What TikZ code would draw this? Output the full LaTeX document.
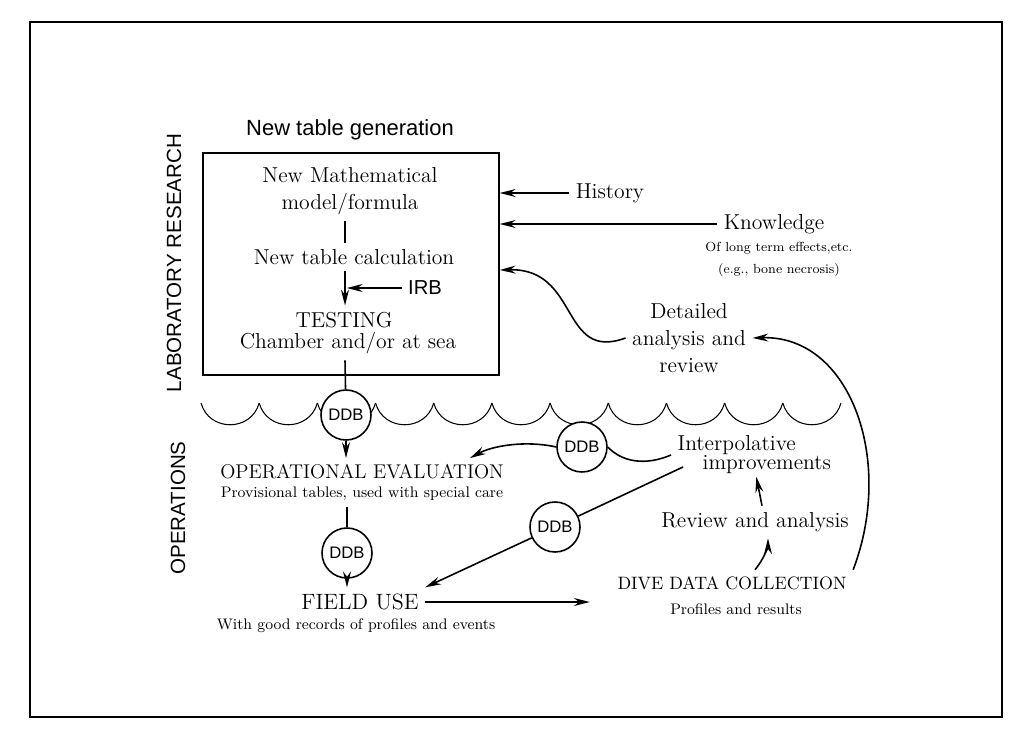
\documentclass[tikz,border=0pt]{standalone}
\usepackage{fontspec}
\setsansfont{Liberation Sans}
\usepackage{tikz}
\usetikzlibrary{positioning, calc, arrows.meta}

\tikzset{
	txt/.style={font=\fontsize{12.3}{15.5}\selectfont},
	caps/.style={font=\fontsize{11.3}{13}\selectfont},
	note/.style={font=\fontsize{8.7}{10}\selectfont},
	tiny/.style={font=\fontsize{7.5}{9}\selectfont},
	sans/.style={font=\sffamily\fontsize{12.5}{15}\selectfont},
	side/.style={font=\sffamily\fontsize{11.7}{14}\selectfont, rotate=90},
	ddb/.style={circle, draw, fill=white, minimum size=1cm, inner sep=0pt, font=\sffamily\fontsize{9.5}{11}\selectfont},
	arr/.style={-{Stealth[length=9pt,width=4.5pt]}},
}

\begin{document}
\begin{tikzpicture}[x=0.02cm, y=-0.02cm, line width=0.9pt]
			\useasboundingbox (0,0) rectangle (1013,737);
			\draw[line width=1pt] (30,22) rectangle (1002,717);
			
			\foreach \i in {0,...,10} {
				\pgfmathsetmacro{\xa}{201+58.18*\i}
				\pgfmathsetmacro{\xb}{\xa+58.18}
				\draw[line width=0.6pt] (\xa,403) .. controls (\xa+8,432) and (\xb-8,432) .. (\xb,403);
			}
			
			\node[sans] (gen)   at (350, 130)  {New table generation};
			\node[draw, line width=0.8pt, minimum width=5.92cm, minimum height=4.44cm] (box) at (351, 264) {};
			\coordinate (spine) at (345, 0);
			\node[txt, align=center] (model) at (350, 191)  {New Mathematical\\model/formula};
			\node[txt] (calc)   at (354, 257)  {New table calculation};
			\node[sans, font=\sffamily\fontsize{11.5}{14}\selectfont] (irb) at (425, 288)  {IRB};
			\node[txt] (test)   at (344, 320)  {TESTING};
			\node[txt] (chamb)  at (348, 343)  {Chamber and/or at sea};
			
			\node[side] (labres) at (174, 263)  {LABORATORY RESEARCH};
			\node[side] (ops)    at (178, 508)  {OPERATIONS};
			
			\node[txt] (hist)   at (610, 193)  {History};
			\node[txt] (know)   at (774, 224)  {Knowledge};
			\node[tiny] (longterm) at (779, 248)  {Of long term effects,etc.};
			\node[tiny] (eg)    at (779, 270)  {(e.g., bone necrosis)};
			\node[txt, align=center] (detail) at (689, 338)  {Detailed\\analysis and\\review};
			
			\node[ddb] (ddba)   at (346, 415)  {DDB};
			\node[caps] (opev)  at (362, 472)  {OPERATIONAL EVALUATION};
			\node[note] (prov)  at (362, 494)  {Provisional tables, used with special care};
			\node[ddb] (ddbb)   at (347, 553)  {DDB};
			\node[txt, font=\fontsize{12.6}{15}\selectfont] (field) at (360, 602)  {FIELD USE};
			\node[note] (recs)  at (356, 626)  {With good records of profiles and events};
			
			\node[ddb] (ddbd)   at (582, 447)  {DDB};
			\node[ddb] (ddbc)   at (555, 527)  {DDB};
			\node[txt, align=left, anchor=west, font=\fontsize{12.3}{10.8}\selectfont] (interp) at (671, 455)  {Interpolative\\\hspace*{0.5cm}improvements};
			\node[txt] (review) at (755, 522)  {Review and analysis};
			\node[caps, font=\fontsize{10.2}{12}\selectfont] (dive) at (732, 583)  {DIVE DATA COLLECTION};
			\node[note] (profres) at (736, 609)  {Profiles and results};
			
			\draw (model.south -| spine) -- (calc.north -| spine);
			\draw[arr] (calc.south -| spine) -- (test.north -| spine);
			\draw[arr, shorten >=1pt] (irb.west) -- (irb.west -| spine);
			\draw (chamb.south -| spine) -- (ddba);
			\draw[arr] (ddba) -- (opev.north -| ddba);
			\draw (prov.south -| ddbb) -- (ddbb);
			\draw[arr] (ddbb) -- (field.north -| ddbb);
			\draw[arr, shorten >=12pt] (field.east) -- (field.east -| dive.west);
			\draw[arr] (dive.north -| review) .. controls (766,556) and (768,545) .. ([xshift=0.26cm]review.north |- review.south);
			\draw[arr] ([xshift=0.14cm]review.north) -- ([xshift=0.04cm, yshift=0.08cm]interp.south);
			\draw (interp.west) .. controls (645,466) and (622,462) .. (ddbd.east);
			\draw[arr] (ddbd.west) .. controls (525,440) and (492,446) .. ([xshift=2.16cm]opev.north);
			\draw ([shift={(0.24cm,-0.24cm)}]interp.west) -- (ddbc);
			\draw[arr] (ddbc) -- (field.north east);
			\draw[arr] (dive.north east) .. controls (895,460) and (850,335) .. (detail.east);
			\draw[arr] (detail.west) .. controls (560,362) and (580,268) .. ([yshift=-0.12cm]box.east);
			\draw[arr] (hist.west) -- (hist.west -| box.east);
			\draw[arr] (know.west) -- (know.west -| box.east);
		\end{tikzpicture}
\end{document}
